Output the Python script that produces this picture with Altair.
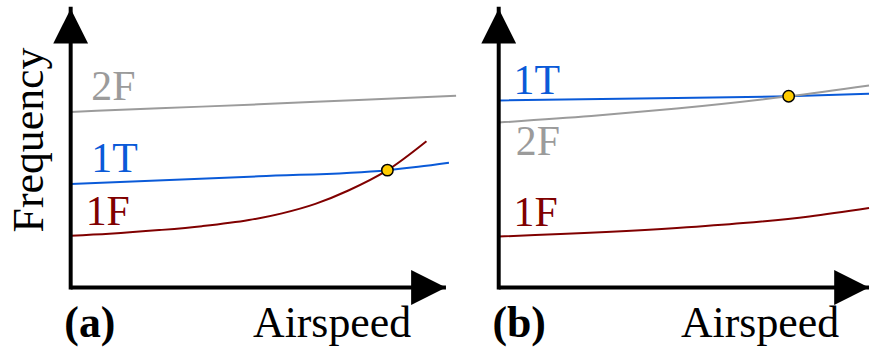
import altair as alt
import pandas as pd

# ---------------- data (arbitrary units: axis arrow tips at 100) ----------------
SERIES = ["1F", "1T", "2F"]
COLORS = ["#800000", "#0a5ad8", "#9b9b9b"]

# panel (a)
A_1F_X = [0, 10.3, 23.6, 35.0, 47.5, 56.3, 65.2, 74.0, 84.4, 94.8]
A_1F_Y = [18.6, 19.3, 20.6, 22.0, 24.2, 26.6, 30.0, 34.8, 42.1, 52.5]
A_1T_X = [0, 50.1, 84.4, 92.6, 100.8]
A_1T_Y = [37.1, 39.9, 42.1, 43.3, 44.75]
A_2F_X = [0, 23.6, 50.1, 76.7, 102.7]
A_2F_Y = [63.0, 64.3, 65.7, 67.3, 68.8]
A_CROSS_X = [84.4]
A_CROSS_Y = [42.1]
A_LABEL_TEXT = ["2F", "1T", "1F"]
A_LABEL_X = [5.5, 5.5, 4.0]
A_LABEL_Y = [67.4, 41.5, 22.5]

# panel (b)
B_1F_X = [0, 48.1, 66.0, 83.9, 100]
B_1F_Y = [18.3, 21.3, 23.1, 25.5, 28.5]
B_1T_X = [0, 48.1, 78.3, 100]
B_1T_Y = [67.1, 68.0, 68.6, 69.5]
B_2F_X = [0, 25, 48.1, 78.3, 100]
B_2F_Y = [59.2, 61.5, 64.2, 68.6, 72.5]
B_CROSS_X = [78.3]
B_CROSS_Y = [68.6]
B_LABEL_TEXT = ["1T", "2F", "1F"]
B_LABEL_X = [4.0, 4.6, 4.0]
B_LABEL_Y = [69.5, 47.5, 21.9]

X_TITLE = "Airspeed"
Y_TITLE = "Frequency"

# ---------------- layout ----------------
FONT = "Liberation Serif, DejaVu Serif, serif"
H = 350
ORIGIN_X_PX = 71
ORIGIN_Y_PX = 288
Y_PX_PER_UNIT = 2.8
Y_DOMAIN = [-(H - ORIGIN_Y_PX) / Y_PX_PER_UNIT, ORIGIN_Y_PX / Y_PX_PER_UNIT]
TIP = 100


def lines_frame(parts):
    rows = []
    for name, xs, ys in parts:
        for i, (x, y) in enumerate(zip(xs, ys)):
            rows.append({"series": name, "airspeed": x, "frequency": y, "order": i})
    return pd.DataFrame(rows)


def make_panel(width, px_per_unit, parts, cross_x, cross_y, lab_t, lab_x, lab_y,
               caption, xtitle_x, with_ylabel):
    xdom = [-ORIGIN_X_PX / px_per_unit, (width - ORIGIN_X_PX) / px_per_unit]
    xs = alt.Scale(domain=xdom, nice=False, zero=False)
    ys = alt.Scale(domain=Y_DOMAIN, nice=False, zero=False)
    X = lambda f: alt.X(f, type="quantitative", scale=xs, axis=None)
    Y = lambda f: alt.Y(f, type="quantitative", scale=ys, axis=None)
    col = alt.Color("series:N", scale=alt.Scale(domain=SERIES, range=COLORS), legend=None)

    df = lines_frame(parts)
    lines = alt.Chart(df).mark_line(strokeWidth=2, interpolate="monotone").encode(
        x=X("airspeed"), y=Y("frequency"), color=col, order="order:Q", detail="series:N"
    )

    yaxis = alt.Chart(pd.DataFrame({"x": [0], "y": [0], "y2": [TIP]})).mark_rule(
        color="black", strokeWidth=4, strokeCap="square"
    ).encode(x=X("x"), y=Y("y"), y2="y2:Q")
    xaxis = alt.Chart(pd.DataFrame({"x": [0], "x2": [TIP], "y": [0]})).mark_rule(
        color="black", strokeWidth=4, strokeCap="butt"
    ).encode(x=X("x"), x2="x2:Q", y=Y("y"))
    up = alt.Chart(pd.DataFrame({"x": [0], "y": [TIP]})).mark_point(
        shape="M0,0L-1,2L1,2Z", filled=True, size=1225, color="black", opacity=1
    ).encode(x=X("x"), y=Y("y"))
    right = alt.Chart(pd.DataFrame({"x": [TIP], "y": [0]})).mark_point(
        shape="M0,0L-2,-1L-2,1Z", filled=True, size=1225, color="black", opacity=1
    ).encode(x=X("x"), y=Y("y"))

    cross = alt.Chart(pd.DataFrame({"x": cross_x, "y": cross_y})).mark_circle(
        color="#ffcc00", stroke="black", strokeWidth=1.5, size=130, opacity=1
    ).encode(x=X("x"), y=Y("y"))

    labels = alt.Chart(pd.DataFrame({"series": lab_t, "x": lab_x, "y": lab_y})).mark_text(
        align="left", baseline="alphabetic", font=FONT, fontSize=42
    ).encode(x=X("x"), y=Y("y"), text="series:N", color=col)

    cap = alt.Chart(pd.DataFrame({"t": [caption], "x": [-1.7], "y": [-17.6]})).mark_text(
        align="left", baseline="alphabetic", font=FONT, fontSize=44, fontWeight="bold",
        color="black"
    ).encode(x=X("x"), y=Y("y"), text="t:N")

    xtitle = alt.Chart(pd.DataFrame({"t": [X_TITLE], "x": [xtitle_x], "y": [-17.9]})).mark_text(
        align="right", baseline="alphabetic", font=FONT, fontSize=44, color="black"
    ).encode(x=X("x"), y=Y("y"), text="t:N")

    layers = [lines, cross, labels, yaxis, xaxis, up, right, cap, xtitle]
    if with_ylabel:
        ytitle = alt.Chart(pd.DataFrame({"t": [Y_TITLE], "x": [-7.4], "y": [52.9]})).mark_text(
            align="center", baseline="alphabetic", font=FONT, fontSize=44, angle=270,
            color="black"
        ).encode(x=X("x"), y=Y("y"), text="t:N")
        layers.append(ytitle)
    return alt.layer(*layers).properties(width=width, height=H)


pa = make_panel(430, 3.77,
                [("1F", A_1F_X, A_1F_Y), ("1T", A_1T_X, A_1T_Y), ("2F", A_2F_X, A_2F_Y)],
                A_CROSS_X, A_CROSS_Y, A_LABEL_TEXT, A_LABEL_X, A_LABEL_Y, "(a)", 90.7, True)
pb = make_panel(443, 3.72,
                [("1F", B_1F_X, B_1F_Y), ("1T", B_1T_X, B_1T_Y), ("2F", B_2F_X, B_2F_Y)],
                B_CROSS_X, B_CROSS_Y, B_LABEL_TEXT, B_LABEL_X, B_LABEL_Y, "(b)", 91.9, False)

chart = alt.hconcat(pa, pb, spacing=0, bounds="flush").resolve_scale(
    x="independent", color="shared"
).properties(padding=0, background="white").configure_view(
    stroke="transparent", strokeWidth=0
)

chart.save("out.html", embed_options={"renderer": "svg", "actions": False})
